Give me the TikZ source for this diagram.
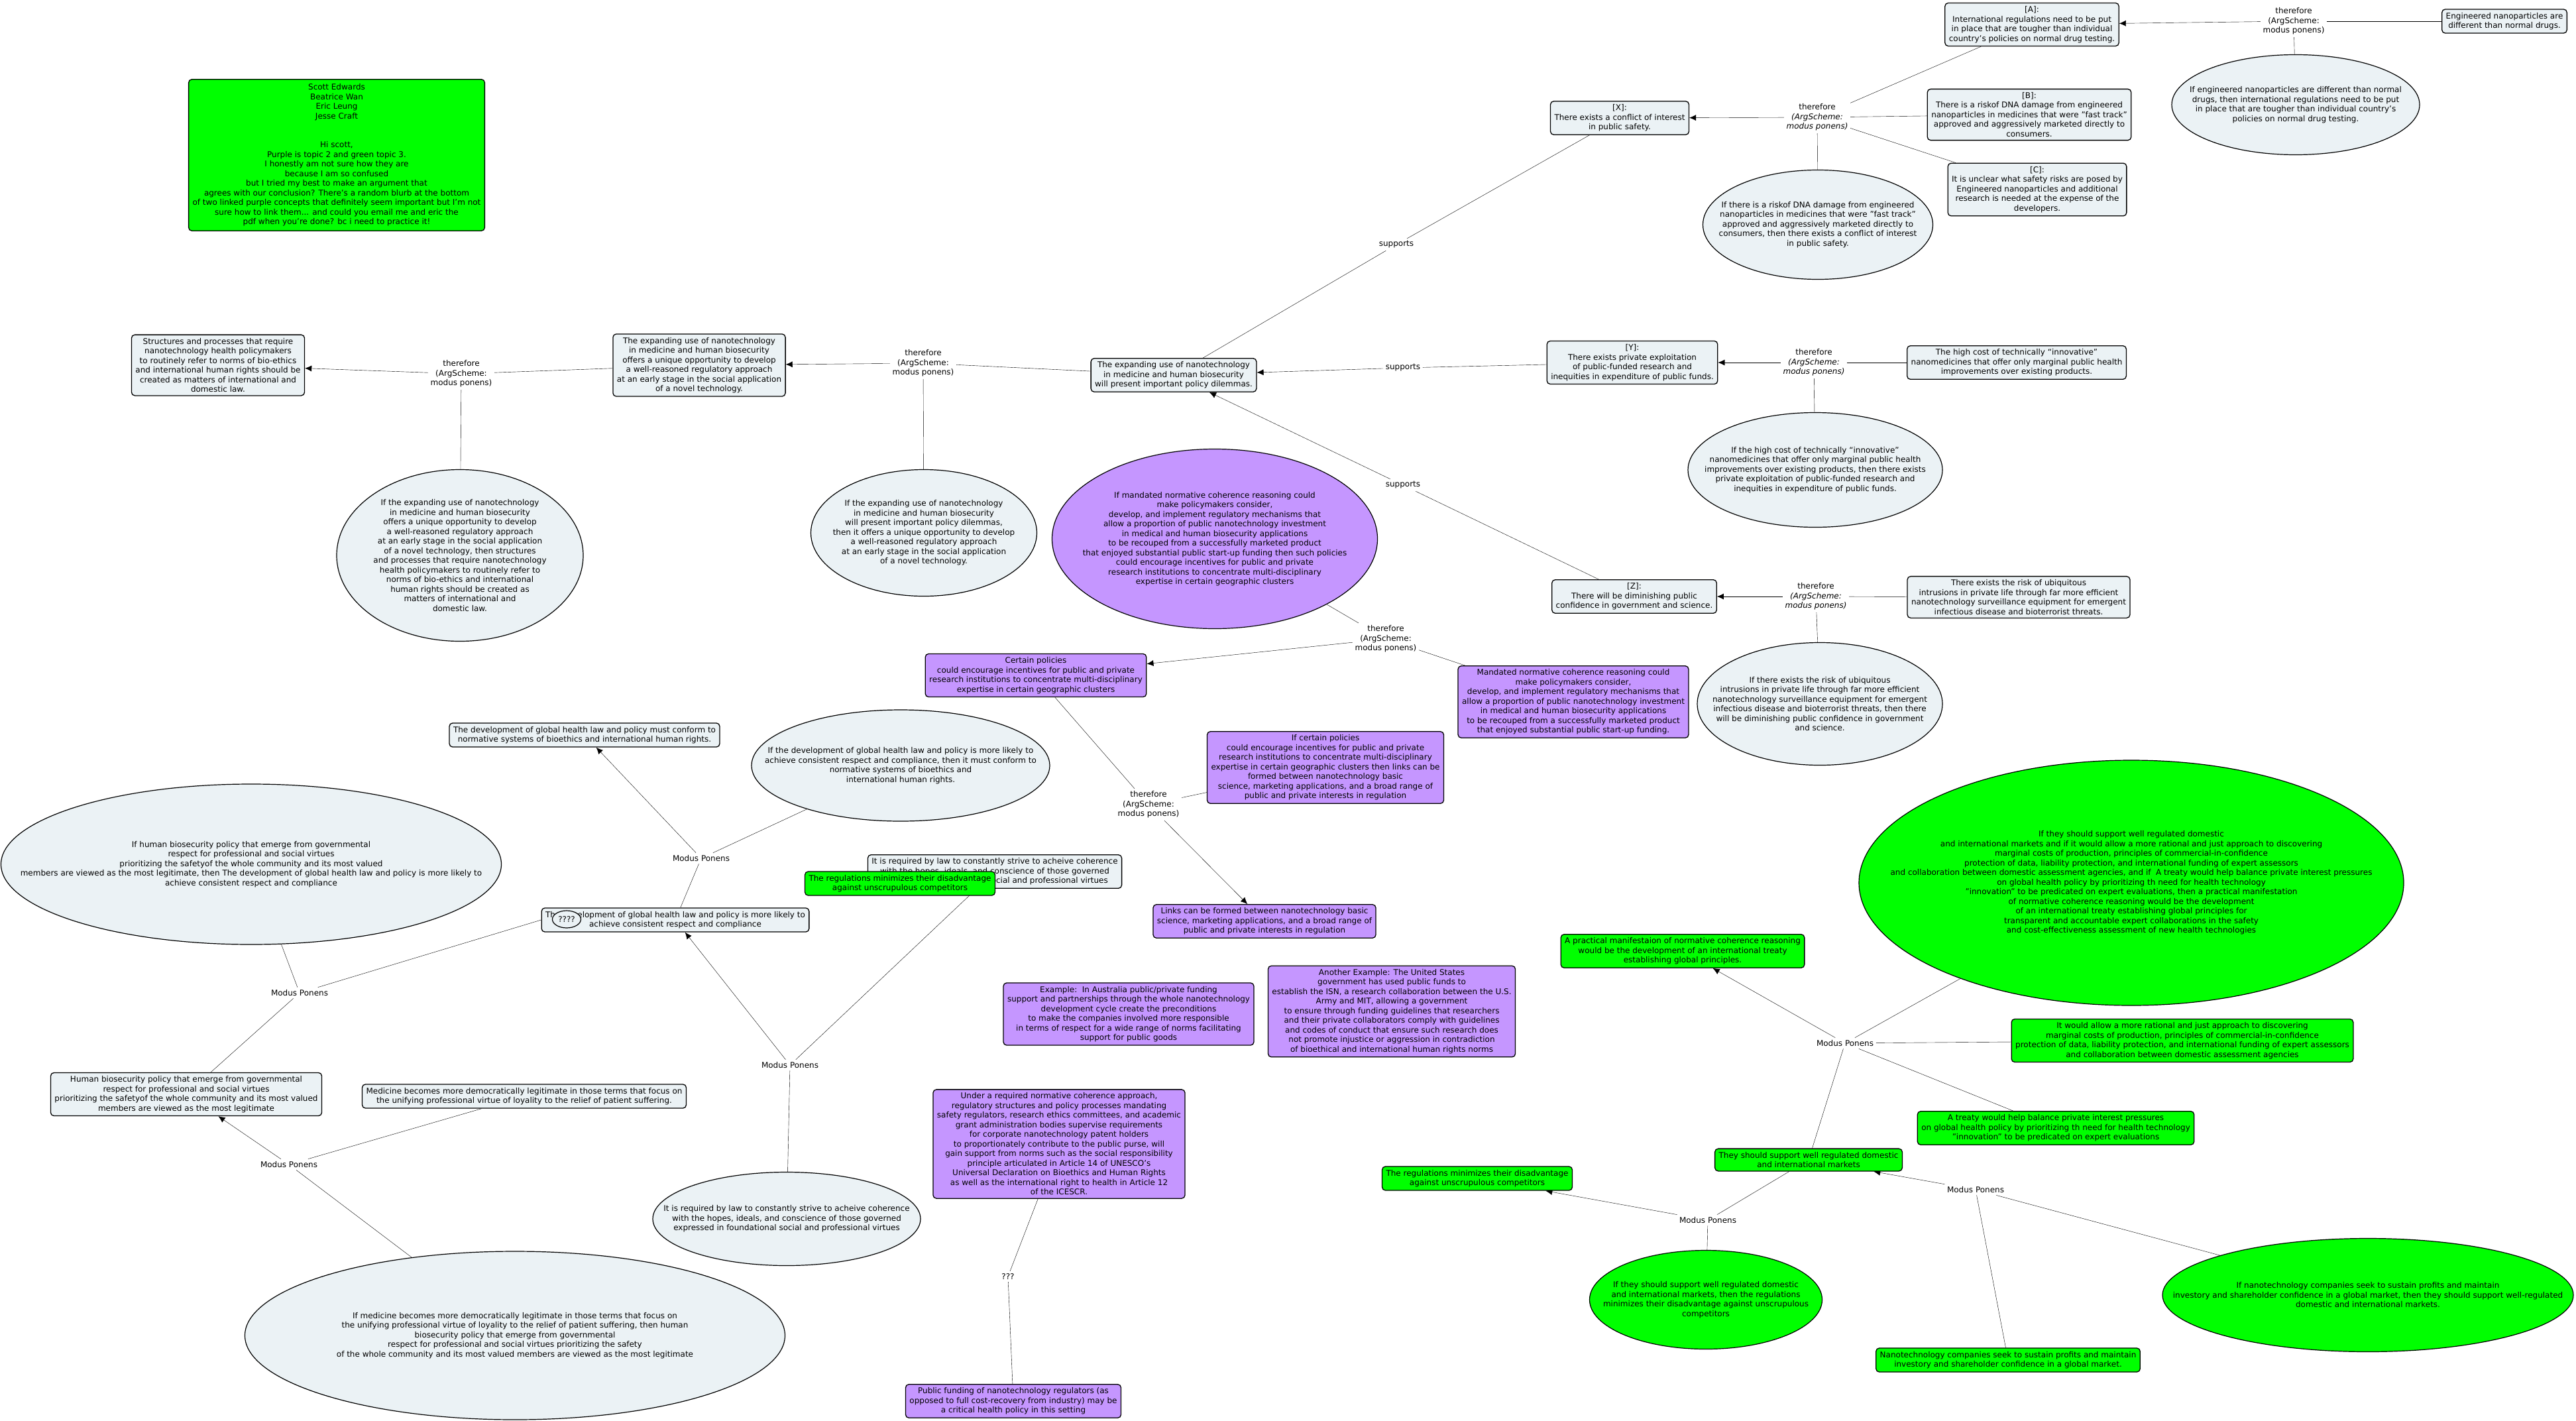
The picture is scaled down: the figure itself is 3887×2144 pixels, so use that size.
\documentclass[tikz,border=0pt]{standalone}
\usepackage{fontspec}
\setmainfont{DejaVu Sans}
\usetikzlibrary{shapes.geometric, arrows.meta, backgrounds}

\definecolor{cmapgray}{RGB}{235,242,245}
\definecolor{cmappurple}{RGB}{197,150,255}
\definecolor{cmapgreen}{RGB}{0,255,0}

\tikzset{
  concept/.style={draw, rounded corners=5pt, fill=cmapgray, align=center, inner xsep=6pt, inner ysep=5pt, line width=1.3pt},
  purpleconcept/.style={concept, fill=cmappurple},
  greenconcept/.style={concept, fill=cmapgreen},
  claim/.style={draw, ellipse, fill=cmapgray, inner sep=0pt, line width=1.2pt},
  purpleclaim/.style={claim, fill=cmappurple},
  greenclaim/.style={claim, fill=cmapgreen},
  claimtext/.style={align=center, inner sep=0pt},
  linkword/.style={align=center, inner sep=3pt},
}

\begin{document}
\begin{tikzpicture}[x=1pt, y=-1pt, >={Latex[length=10pt, width=9pt]}, line width=1.5pt, font=\fontsize{12}{14.5}\selectfont]

  % Fix the page to the size of the map
  \useasboundingbox (0,0) rectangle (3887,2144);

  % Top right: arguments for [A] and [X]
  \node[concept] (A) at (3066,37) {[A]:\\International regulations need to be put\\in place that are tougher than individual\\country's policies on normal drug testing.};
  \node[concept] (eng) at (3779,32) {Engineered nanoparticles are\\different than normal drugs.};
  \node[linkword] (tA) at (3461,32) {therefore\\(ArgScheme:\\modus ponens)};
  \node[claim, minimum width=374pt, minimum height=151pt, label={[claimtext]center:{If engineered nanoparticles are different than normal\\drugs, then international regulations need to be put\\in place that are tougher than individual country's\\policies on normal drug testing.}}] (eA) at (3464,158) {};

  \node[concept] (X) at (2444,178) {[X]:\\There exists a conflict of interest\\in public safety.};
  \node[linkword] (tX) at (2742,177) {therefore\\\textit{(ArgScheme:}\\\textit{modus ponens)}};
  \node[concept] (B) at (3062,173) {[B]:\\There is a riskof DNA damage from engineered\\nanoparticles in medicines that were "fast track"\\approved and aggressively marketed directly to\\consumers.};
  \node[concept] (C) at (3074,286) {[C]:\\It is unclear what safety risks are posed by\\Engineered nanoparticles and additional\\research is needed at the expense of the\\developers.};
  \node[claim, minimum width=347pt, minimum height=165pt, label={[claimtext]center:{If there is a riskof DNA damage from engineered\\nanoparticles in medicines that were "fast track"\\approved and aggressively marketed directly to\\consumers, then there exists a conflict of interest\\in public safety.}}] (eX) at (2743,339) {};

  % Right: arguments for [Y] and [Z]
  \node[concept] (Y) at (2463,547) {[Y]:\\There exists private exploitation\\of public-funded research and\\inequities in expenditure of public funds.};
  \node[linkword] (tY) at (2737,547) {therefore\\\textit{(ArgScheme:}\\\textit{modus ponens)}};
  \node[concept] (cost) at (3043,547) {The high cost of technically “innovative”\\nanomedicines that offer only marginal public health\\improvements over existing products.};
  \node[claim, minimum width=384pt, minimum height=173pt, label={[claimtext]center:{If the high cost of technically “innovative”\\nanomedicines that offer only marginal public health\\improvements over existing products, then there exists\\private exploitation of public-funded research and\\inequities in expenditure of public funds.}}] (eY) at (2739,709) {};

  \node[concept] (Z) at (2466,900) {[Z]:\\There will be diminishing public\\confidence in government and science.};
  \node[linkword] (tZ) at (2740,900) {therefore\\\textit{(ArgScheme:}\\\textit{modus ponens)}};
  \node[concept] (ubiq) at (3046,901) {There exists the risk of ubiquitous\\intrusions in private life through far more efficient\\nanotechnology surveillance equipment for emergent\\infectious disease and bioterrorist threats.};
  \node[claim, minimum width=370pt, minimum height=185pt, label={[claimtext]center:{If there exists the risk of ubiquitous\\intrusions in private life through far more efficient\\nanotechnology surveillance equipment for emergent\\infectious disease and bioterrorist threats, then there\\will be diminishing public confidence in government\\and science.}}] (eZ) at (2746,1062) {};

  % Centre: the main claim and its supports
  \node[concept] (main) at (1771,566) {The expanding use of nanotechnology\\in medicine and human biosecurity\\will present important policy dilemmas.};
  \node[linkword] (sup1) at (2107,369) {supports};
  \node[linkword] (sup2) at (2117,555) {supports};
  \node[linkword] (sup3) at (2117,732) {supports};

  % Top left: note and the chain to domestic law
  \node[greenconcept, inner ysep=7pt] (note) at (508,234) {Scott Edwards\\Beatrice Wan\\Eric Leung\\Jesse Craft\\~\\~\\Hi scott,\\Purple is topic 2 and green topic 3.\\I honestly am not sure how they are\\because I am so confused\\but I tried my best to make an argument that\\agrees with our conclusion? There's a random blurb at the bottom\\of two linked purple concepts that definitely seem important but I'm not\\sure how to link them... and could you email me and eric the\\pdf when you're done? bc i need to practice it!};
  \node[concept] (struct) at (329,551) {Structures and processes that require\\nanotechnology health policymakers\\to routinely refer to norms of bio-ethics\\and international human rights should be\\created as matters of international and\\domestic law.};
  \node[linkword] (tL) at (696,564) {therefore\\(ArgScheme:\\modus ponens)};
  \node[concept] (offers) at (1055,551) {The expanding use of nanotechnology\\in medicine and human biosecurity\\offers a unique opportunity to develop\\a well-reasoned regulatory approach\\at an early stage in the social application\\of a novel technology.};
  \node[claim, minimum width=372pt, minimum height=259pt, label={[claimtext]center:{If the expanding use of nanotechnology\\in medicine and human biosecurity\\offers a unique opportunity to develop\\a well-reasoned regulatory approach\\at an early stage in the social application\\of a novel technology, then structures\\and processes that require nanotechnology\\health policymakers to routinely refer to\\norms of bio-ethics and international\\human rights should be created as\\matters of international and\\domestic law.}}] (eL) at (694,838) {};
  \node[linkword] (tM) at (1393,548) {therefore\\(ArgScheme:\\modus ponens)};
  \node[claim, minimum width=341pt, minimum height=191pt, label={[claimtext]center:{If the expanding use of nanotechnology\\in medicine and human biosecurity\\will present important policy dilemmas,\\then it offers a unique opportunity to develop\\a well-reasoned regulatory approach\\at an early stage in the social application\\of a novel technology.}}] (eM) at (1394,804) {};

  % Purple: topic 2
  \node[purpleclaim, minimum width=491pt, minimum height=271pt, label={[claimtext]center:{If mandated normative coherence reasoning could\\make policymakers consider,\\develop, and implement regulatory mechanisms that\\allow a proportion of public nanotechnology investment\\in medical and human biosecurity applications\\to be recouped from a successfully marketed product\\that enjoyed substantial public start-up funding then such policies\\could encourage incentives for public and private\\research institutions to concentrate multi-disciplinary\\expertise in certain geographic clusters}}] (eP) at (1833,813) {};
  \node[linkword] (tP) at (2091,964) {therefore\\(ArgScheme:\\modus ponens)};
  \node[purpleconcept] (certain) at (1563,1019) {Certain policies\\could encourage incentives for public and private\\research institutions to concentrate multi-disciplinary\\expertise in certain geographic clusters};
  \node[purpleconcept] (mandated) at (2374,1059) {Mandated normative coherence reasoning could\\make policymakers consider,\\develop, and implement regulatory mechanisms that\\allow a proportion of public nanotechnology investment\\in medical and human biosecurity applications\\to be recouped from a successfully marketed product\\that enjoyed substantial public start-up funding.};
  \node[purpleconcept] (ifcertain) at (2000,1158) {If certain policies\\could encourage incentives for public and private\\research institutions to concentrate multi-disciplinary\\expertise in certain geographic clusters then links can be\\formed between nanotechnology basic\\science, marketing applications, and a broad range of\\public and private interests in regulation};
  \node[linkword] (tQ) at (1733,1214) {therefore\\(ArgScheme:\\modus ponens)};
  \node[purpleconcept] (links) at (1908,1390) {Links can be formed between nanotechnology basic\\science, marketing applications, and a broad range of\\public and private interests in regulation};
  \node[purpleconcept] (australia) at (1703,1530) {Example:\ \ In Australia public/private funding\\support and partnerships through the whole nanotechnology\\development cycle create the preconditions\\to make the companies involved more responsible\\in terms of respect for a wide range of norms facilitating\\support for public goods};
  \node[purpleconcept] (usa) at (2100,1526) {Another Example: The United States\\government has used public funds to\\establish the ISN, a research collaboration between the U.S.\\Army and MIT, allowing a government\\to ensure through funding guidelines that researchers\\and their private collaborators comply with guidelines\\and codes of conduct that ensure such research does\\not promote injustice or aggression in contradiction\\of bioethical and international human rights norms};
  \node[purpleconcept] (under) at (1598,1726) {Under a required normative coherence approach,\\regulatory structures and policy processes mandating\\safety regulators, research ethics committees, and academic\\grant administration bodies supervise requirements\\for corporate nanotechnology patent holders\\to proportionately contribute to the public purse, will\\gain support from norms such as the social responsibility\\principle articulated in Article 14 of UNESCO’s\\Universal Declaration on Bioethics and Human Rights\\as well as the international right to health in Article 12\\of the ICESCR.};
  \node[linkword] (unknown) at (1521,1926) {???};
  \node[purpleconcept] (funding) at (1529,2114) {Public funding of nanotechnology regulators (as\\opposed to full cost-recovery from industry) may be\\a critical health policy in this setting};

  % Bottom left: the global health law chain
  \node[concept] (conform) at (882,1109) {The development of global health law and policy must conform to\\normative systems of bioethics and international human rights.};
  \node[claim, minimum width=450pt, minimum height=168pt, label={[claimtext]center:{If the development of global health law and policy is more likely to\\achieve consistent respect and compliance, then it must conform to\\normative systems of bioethics and\\international human rights.}}] (eD) at (1359,1155) {};
  \node[linkword] (mp1) at (1058,1295) {Modus Ponens};
  \node[concept] (likely) at (1019,1388) {The development of global health law and policy is more likely to\\achieve consistent respect and compliance};
  \node[claim, minimum width=43pt, minimum height=26pt] (query) at (855,1387) {????};
  \node[claim, minimum width=755pt, minimum height=242pt, label={[claimtext]center:{If human biosecurity policy that emerge from governmental\\respect for professional and social virtues\\prioritizing the safetyof the whole community and its most valued\\members are viewed as the most legitimate, then The development of global health law and policy is more likely to\\achieve consistent respect and compliance}}] (eH) at (379,1304) {};
  \node[linkword] (mp2) at (452,1498) {Modus Ponens};
  \node[concept] (human) at (281,1651) {Human biosecurity policy that emerge from governmental\\respect for professional and social virtues\\prioritizing the safetyof the whole community and its most valued\\members are viewed as the most legitimate};
  \node[concept] (medicine) at (791,1654) {Medicine becomes more democratically legitimate in those terms that focus on\\the unifying professional virtue of loyality to the relief of patient suffering.};
  \node[linkword] (mp3) at (436,1757) {Modus Ponens};
  \node[claim, minimum width=815pt, minimum height=254pt, label={[claimtext]center:{If medicine becomes more democratically legitimate in those terms that focus on\\the unifying professional virtue of loyality to the relief of patient suffering, then human\\biosecurity policy that emerge from governmental\\respect for professional and social virtues prioritizing the safety\\of the whole community and its most valued members are viewed as the most legitimate}}] (eMed) at (777,2015) {};
  \node[concept] (law) at (1501,1315) {It is required by law to constantly strive to acheive coherence\\with the hopes, ideals, and conscience of those governed\\expressed in foundational social and professional virtues};
  \node[greenconcept] (regs) at (1358,1333) {The regulations minimizes their disadvantage\\against unscrupulous competitors};
  \node[linkword] (mp4) at (1192,1607) {Modus Ponens};
  \node[claim, minimum width=404pt, minimum height=141pt, label={[claimtext]center:{It is required by law to constantly strive to acheive coherence\\with the hopes, ideals, and conscience of those governed\\expressed in foundational social and professional virtues}}] (eR) at (1187,1839) {};

  % Green: topic 3
  \node[greenclaim, minimum width=822pt, minimum height=370pt, label={[claimtext]center:{If they should support well regulated domestic\\and international markets and if it would allow a more rational and just approach to discovering\\marginal costs of production, principles of commercial-in-confidence\\protection of data, liability protection, and international funding of expert assessors\\and collaboration between domestic assessment agencies, and if\ \ A treaty would help balance private interest pressures\\on global health policy by prioritizing th need for health technology\\"innovation" to be predicated on expert evaluations, then a practical manifestation\\of normative coherence reasoning would be the development\\of an international treaty establishing global principles for\\transparent and accountable expert collaborations in the safety\\and cost-effectiveness assessment of new health technologies}}] (eG) at (3216,1332) {};
  \node[greenconcept] (practical) at (2539,1435) {A practical manifestaion of normative coherence reasoning\\would be the development of an international treaty\\establishing global principles.};
  \node[linkword] (mp5) at (2784,1574) {Modus Ponens};
  \node[greenconcept] (allow) at (3293,1570) {It would allow a more rational and just approach to discovering\\marginal costs of production, principles of commercial-in-confidence\\protection of data, liability protection, and international funding of expert assessors\\and collaboration between domestic assessment agencies};
  \node[greenconcept] (treaty) at (3102,1702) {A treaty would help balance private interest pressures\\on global health policy by prioritizing th need for health technology\\"innovation" to be predicated on expert evaluations};
  \node[greenconcept] (should) at (2729,1750) {They should support well regulated domestic\\and international markets};
  \node[greenconcept] (regsb) at (2229,1778) {The regulations minimizes their disadvantage\\against unscrupulous competitors};
  \node[linkword] (mp6) at (2577,1841) {Modus Ponens};
  \node[linkword] (mp7) at (2981,1795) {Modus Ponens};
  \node[greenclaim, minimum width=351pt, minimum height=149pt, label={[claimtext]center:{If they should support well regulated domestic\\and international markets, then the regulations\\minimizes their disadvantage against unscrupulous\\competitors}}] (eT) at (2574,1961) {};
  \node[greenconcept] (nanoco) at (3030,2052) {Nanotechnology companies seek to sustain profits and maintain\\investory and shareholder confidence in a global market.};
  \node[greenclaim, minimum width=620pt, minimum height=171pt, label={[claimtext]center:{If nanotechnology companies seek to sustain profits and maintain\\investory and shareholder confidence in a global market, then they should support well-regulated\\domestic and international markets.}}] (eN) at (3573,1954) {};

  % Draw the connectors under the concepts
  \begin{scope}[on background layer]
    \draw[->] (tA) -- (A);
    \draw (eng) -- (tA);
    \draw (eA) -- (tA);
    \draw[->] (tX) -- (X);
    \draw (tX) -- (A);
    \draw (B) -- (tX);
    \draw (C) -- (tX);
    \draw (eX) -- (tX);
    \draw (X) -- (sup1);
    \draw (sup1) -- (main);
    \draw (Y) -- (sup2);
    \draw[->] (sup2) -- (main);
    \draw (Z) -- (sup3);
    \draw[->] (sup3) -- (main);
    \draw[->] (tY) -- (Y);
    \draw (cost) -- (tY);
    \draw (eY) -- (tY);
    \draw[->] (tZ) -- (Z);
    \draw (ubiq) -- (tZ);
    \draw (eZ) -- (tZ);

    \draw[->] (tL) -- (struct);
    \draw (offers) -- (tL);
    \draw (eL) -- (tL);
    \draw[->] (tM) -- (offers);
    \draw (main) -- (tM);
    \draw (eM) -- (tM);

    \draw (eP) -- (tP);
    \draw[->] (tP) -- (certain);
    \draw (mandated) -- (tP);
    \draw (certain) -- (tQ);
    \draw (ifcertain) -- (tQ);
    \draw[->] (tQ) -- (links);
    \draw (under) -- (unknown);
    \draw (unknown) -- (funding);

    \draw[->] (mp1) -- (conform);
    \draw (eD) -- (mp1);
    \draw (likely) -- (mp1);
    \draw (eH) -- (mp2);
    \draw (likely.west) -- (mp2);
    \draw (mp2) -- (human);
    \draw[->] (mp3) -- (human);
    \draw (medicine) -- (mp3);
    \draw (eMed) -- (mp3);
    \draw[->] (mp4) -- (likely);
    \draw (law) -- (mp4);
    \draw (eR) -- (mp4);

    \draw[->] (mp5) -- (practical);
    \draw (eG) -- (mp5);
    \draw (allow) -- (mp5);
    \draw (treaty) -- (mp5);
    \draw (should) -- (mp5);
    \draw[->] (mp6) -- (regsb);
    \draw (should) -- (mp6);
    \draw (eT) -- (mp6);
    \draw[->] (mp7) -- (should);
    \draw (nanoco) -- (mp7);
    \draw (eN) -- (mp7);
  \end{scope}

\end{tikzpicture}
\end{document}
